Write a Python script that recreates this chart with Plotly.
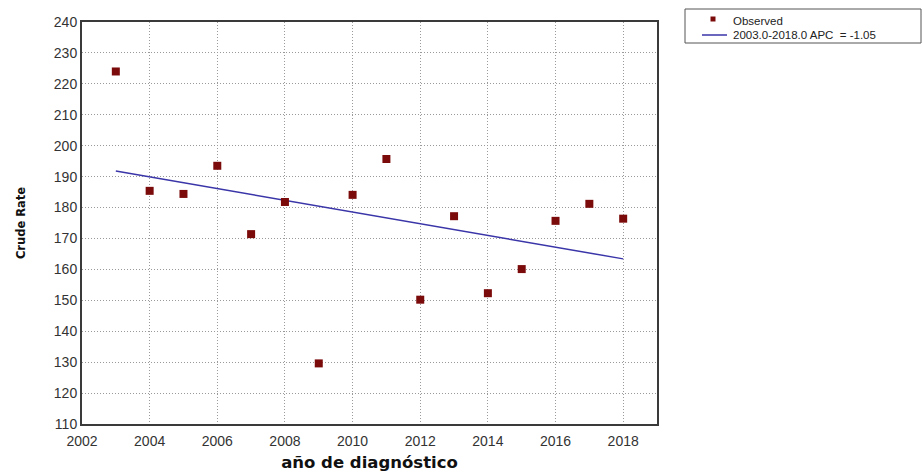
import plotly.graph_objects as go

# Observed crude rates by year of diagnosis
years = [2003, 2004, 2005, 2006, 2007, 2008, 2009, 2010,
         2011, 2012, 2013, 2014, 2015, 2016, 2017, 2018]
observed = [224.0, 185.4, 184.4, 193.5, 171.4, 181.8, 129.6, 184.1,
            195.7, 150.2, 177.2, 152.3, 160.1, 175.7, 181.2, 176.4]

# Joinpoint fitted segment (2003-2018, APC = -1.05)
fit_years = [2003, 2018]
fit_values = [191.8, 163.4]
fit_label = "2003.0-2018.0 APC &nbsp;= -1.05"

x_ticks = [2002, 2004, 2006, 2008, 2010, 2012, 2014, 2016, 2018]
y_ticks = list(range(110, 241, 10))

RED = "#7b0a0a"
BLUE = "#3a35a8"
TICK_FONT = dict(family="Liberation Sans, Arial, sans-serif", size=14, color="#333333")

fig = go.Figure()
fig.add_trace(go.Scatter(
    x=fit_years, y=fit_values, mode="lines",
    line=dict(color=BLUE, width=1.5), name="fit", showlegend=False,
))
fig.add_trace(go.Scatter(
    x=years, y=observed, mode="markers",
    marker=dict(symbol="square", size=8, color=RED, line=dict(width=0)),
    name="Observed", showlegend=False,
))

grid = dict(showgrid=True, gridcolor="#9a9a9a", gridwidth=1, griddash="1px,2px")
fig.update_xaxes(
    range=[2002, 2019], tickvals=x_ticks, ticks="", tickfont=TICK_FONT,
    automargin=False, ticklabelstandoff=3,
    title=dict(text="<b>año de diagnóstico</b>", standoff=12,
               font=dict(family="DejaVu Sans, Verdana, sans-serif", size=16.5, color="#111111")),
    showline=True, linecolor="#3a3a3a", linewidth=2, mirror=True,
    zeroline=False, **grid,
)
fig.update_yaxes(
    range=[110, 240], tickvals=y_ticks, ticks="", tickfont=TICK_FONT,
    automargin=False,
    title=dict(text="<b>Crude Rate</b>", standoff=26,
               font=dict(family="DejaVu Sans, Verdana, sans-serif", size=11.5, color="#111111")),
    showline=True, linecolor="#3a3a3a", linewidth=2, mirror=True,
    zeroline=False, **grid,
)

# Legend box drawn in paper coordinates to the right of the plot
L, R, T, B = 82, 657, 22, 424
W, H = R - L, B - T


def px(xp):
    return (xp - L) / W


def py(yp):
    return (B - yp) / H


shapes = [
    dict(type="rect", xref="paper", yref="paper",
         x0=px(685), x1=px(921), y0=py(43), y1=py(9),
         line=dict(color="#555555", width=1), fillcolor="white"),
    dict(type="rect", xref="paper", yref="paper",
         x0=px(710.5), x1=px(715.5), y0=py(21.5), y1=py(16.5),
         line=dict(width=0), fillcolor=RED),
    dict(type="line", xref="paper", yref="paper",
         x0=px(702), x1=px(727), y0=py(35), y1=py(35),
         line=dict(color=BLUE, width=1.5)),
]
legend_font = dict(family="Liberation Sans, Arial, sans-serif", size=11.5, color="#222222")
annotations = [
    dict(xref="paper", yref="paper", x=px(731), y=py(21), text="Observed",
         showarrow=False, xanchor="left", yanchor="middle", font=legend_font),
    dict(xref="paper", yref="paper", x=px(731), y=py(34.5), text=fit_label,
         showarrow=False, xanchor="left", yanchor="middle", font=legend_font),
]

fig.update_layout(
    width=923, height=472,
    margin=dict(l=L, r=923 - R, t=T, b=472 - B),
    paper_bgcolor="white", plot_bgcolor="white",
    showlegend=False, shapes=shapes, annotations=annotations,
)

fig.write_html("out.html")
